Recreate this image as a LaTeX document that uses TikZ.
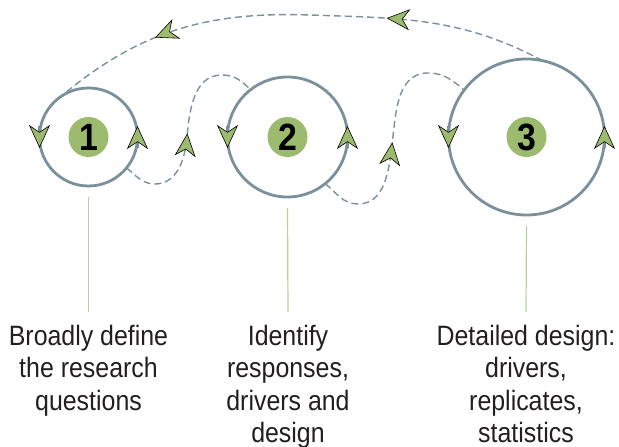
\documentclass[tikz,border=0pt]{standalone}
\usepackage{fontspec}
\setmainfont{Liberation Sans}[FakeStretch=0.89]
\usepackage{xcolor}
\usetikzlibrary{arrows.meta,decorations.markings,positioning}
\definecolor{ringgray}{HTML}{7B909B}
\definecolor{leafgreen}{HTML}{9CBB6E}
\definecolor{stemgreen}{HTML}{B8D295}
\definecolor{inkgray}{HTML}{231F20}
\tikzset{
  leaf/.tip={Stealth[length=23pt,width=21pt,inset=7pt,color=black,fill=leafgreen,line width=0.6pt]},
  ring/.style={circle,draw=ringgray,line width=2.8pt,inner sep=0pt,outer sep=0pt},
  badge/.style={circle,fill=leafgreen,minimum size=40pt,inner sep=0pt,text=black,font=\fontsize{38}{38}\selectfont\bfseries},
  dashlink/.style={draw=ringgray,line width=1.4pt,dash pattern=on 7pt off 4pt},
  stemline/.style={draw=stemgreen,line width=1.2pt},
  caption/.style={align=center,anchor=north,inner xsep=0pt,inner ysep=12.6pt,text=inkgray,font=\fontsize{28}{32.5}\selectfont},
  midtip/.style={postaction={decorate},decoration={markings,mark=at position #1 with {\arrow{leaf}}}}
}

\begin{document}
\begin{tikzpicture}[x=1pt,y=1pt]
\useasboundingbox (0,0) rectangle (619,447);

\foreach \n/\cx/\d in {1/88.5/98,2/287.5/120,3/526.5/156} {
  \node[ring,minimum size=\d pt] (c\n) at (\cx,310) {};
  \node[badge] (b\n) at (c\n) {\n};
  \draw[ringgray,line width=2.8pt,-{leaf}] ([yshift=11pt]c\n.west) -- ([yshift=-11pt]c\n.west);
  \draw[ringgray,line width=2.8pt,-{leaf}] ([yshift=-11pt]c\n.east) -- ([yshift=11pt]c\n.east);
}

% captions
\node[caption] (t1) at (88.5,135) {Broadly define\\the research\\questions};
\node[caption] (t2) at (288,135) {Identify\\responses,\\drivers and\\design};
\node[caption] (t3) at (526,135) {Detailed design:\\drivers,\\replicates,\\statistics};

\foreach \n in {1,2,3}
  \draw[stemline] ([yshift=-11pt]c\n.south) -- (t\n.north);

% feedback paths
\draw[dashlink,midtip=0.48] (c1.-39) to[out=-40,in=180] (155,263) to[out=0,in=-95] (187,310)
  to[out=85,in=180] (222,372) to[out=0,in=135] (c2.128);
\draw[dashlink,midtip=0.48] (c2.-51) to[out=-40,in=180] (358,243) to[out=0,in=-97] (392,302)
  to[out=83,in=180] (428,374) to[out=0,in=140] (c3.143);
\draw[dashlink,postaction={decorate},decoration={markings,
    mark=at position 0.32 with {\arrow{leaf}},
    mark=at position 0.78 with {\arrow{leaf}}}]
  (c3.78) to[out=152,in=-2] (310,432) to[out=178,in=40] (c1.125);
\end{tikzpicture}
\end{document}
